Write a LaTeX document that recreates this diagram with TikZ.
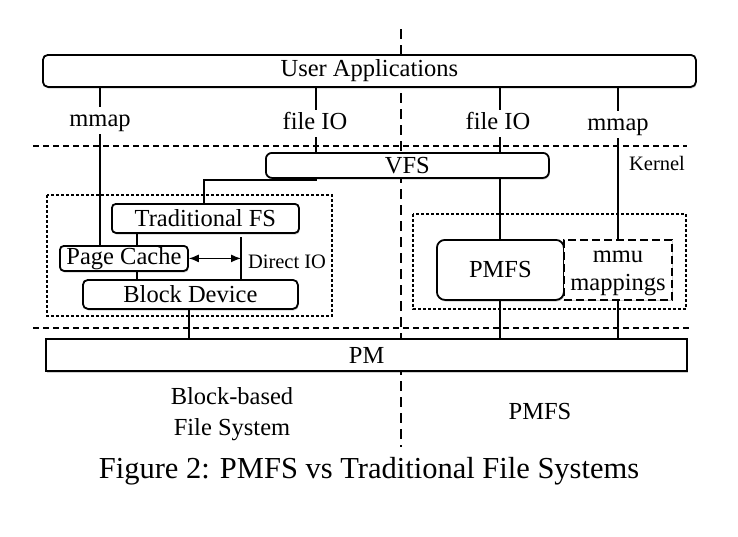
\documentclass[tikz,border=0pt]{standalone}
\usepackage{fontspec}
\setmainfont{Liberation Serif}
\usetikzlibrary{arrows.meta,shadows}
\tikzset{
  box/.style={draw, fill=white, line width=1.8pt, rounded corners=5pt, anchor=north west, inner sep=0pt, align=center, font=\fontsize{24.5}{29}\selectfont,
    drop shadow={shadow xshift=0.8pt, shadow yshift=-1.6pt, opacity=0.18, fill=black}},
  sqbox/.style={box, rounded corners=0pt},
  lbl/.style={anchor=base, inner sep=2pt, text height=17pt, text depth=6pt, font=\fontsize{24.5}{29}\selectfont},
  intext/.style={anchor=base, inner sep=0pt, font=\fontsize{24.5}{29}\selectfont},
  small/.style={inner sep=0pt, font=\fontsize{20.5}{24}\selectfont},
  big/.style={inner sep=0pt, font=\fontsize{24.5}{31}\selectfont},
  conn/.style={line width=1.3pt},
  group/.style={draw, line width=1.4pt, dash pattern=on 3pt off 2pt},
  layer/.style={line width=1.2pt, dash pattern=on 6pt off 4pt},
  divider/.style={line width=2.6pt, dash pattern=on 10pt off 6pt},
  dblarrow/.style={conn, >={Latex[length=10pt,width=8pt]}, <->},
}
\begin{document}
\begin{tikzpicture}[x=1pt,y=-1pt]
\useasboundingbox (0,0) rectangle (738,536);

% divider (behind everything)
\coordinate (dtop) at (401,29);
\coordinate (dbot) at (401,447);
\draw[divider] (dtop) -- (dbot);

% layer lines
\coordinate (hl1) at (33,146);
\coordinate (hr1) at (687,146);
\coordinate (hl2) at (33,328);
\coordinate (hr2) at (692,328);
\draw[layer] (hl1) -- (hr1);
\draw[layer] (hl2) -- (hr2);

% groups
\draw[group] (47,195) rectangle (332,316);
\draw[group] (413,214) rectangle (686,309);

% boxes
\node[box, minimum width=653pt, minimum height=32pt] (ua) at (42,54) {User Applications};
\node[box, rounded corners=6pt, minimum width=283pt, minimum height=25pt] (vfs) at (265,152) {VFS};
\node[box, rounded corners=4pt, minimum width=187pt, minimum height=29pt] (tfs) at (111,203) {Traditional FS};
\node[box, rounded corners=4pt, minimum width=128pt, minimum height=25pt] (pc) at (59,245) {Page Cache};
\node[box, rounded corners=5pt, minimum width=215pt, minimum height=29pt] (bd) at (82,279) {Block Device};
\node[box, rounded corners=8pt, minimum width=127pt, minimum height=60pt] (pmfs) at (436,239) {PMFS};
\node[box, rounded corners=0pt, line width=1.5pt, dash pattern=on 8pt off 4pt, drop shadow={opacity=0}, minimum width=108pt, minimum height=60pt] (mmu) at (563,239) {};
\node[intext] (mmu1) at (618,262) {mmu};
\node[intext] (mmu2) at (618,290) {mappings};
\node[sqbox, line width=2.2pt, minimum width=641pt, minimum height=32pt] (pm) at (45,338) {PM};

% labels on the links
\node[lbl] (mmapL) at (100,126) {mmap};
\node[lbl] (fileioL) at (315,129) {file IO};
\node[lbl] (fileioR) at (498,129) {file IO};
\node[lbl] (mmapR) at (618,130) {mmap};
\node[small] (kernel) at (657,163) {Kernel};
\node[small] (dio) at (287,262) {Direct IO};

% left stack connectors
\draw[conn] (ua.south -| mmapL) -- (mmapL.north);
\draw[conn] (mmapL.south) -- (mmapL.south |- pc.north);
\coordinate (fx) at (316,0);
\draw[conn] (ua.south -| fx) -- (fileioL.north -| fx);
\draw[conn] (fileioL.south -| fx) -- (vfs.north -| fx);
\coordinate (bend) at (204,180);
\draw[conn] (vfs.south -| fx) |- (bend) -- (bend |- tfs.north);
\coordinate (xl) at (137,0);
\draw[conn] (tfs.south -| xl) -- (pc.north -| xl);
\draw[conn] (pc.south -| xl) -- (bd.north -| xl);
\coordinate (diotop) at (241,237);
\draw[conn] (diotop) -- (diotop |- bd.north);
\draw[dblarrow] (pc.east) -- (pc.east -| diotop);
\coordinate (bx) at (189,0);
\draw[conn] (bd.south -| bx) -- (pm.north -| bx);

% right stack connectors
\coordinate (rx) at (500,0);
\draw[conn] (ua.south -| rx) -- (fileioR.north -| rx);
\draw[conn] (fileioR.south -| rx) -- (vfs.north -| rx);
\draw[conn] (vfs.south -| rx) -- (pmfs.north -| rx);
\draw[conn] (pmfs.south -| rx) -- (pm.north -| rx);
\draw[conn] (ua.south -| mmapR) -- (mmapR.north);
\draw[conn] (mmapR.south) -- (mmapR.south |- mmu.north);
\draw[conn] (mmu.south -| mmapR) -- (pm.north -| mmapR);

% bottom texts
\node[big, anchor=base] (bb1) at (232,404) {Block-based};
\node[big, anchor=base] (bb2) at (232,435) {File System};
\node[big, anchor=base] (pmfslbl) at (540,419) {PMFS};
\node[inner sep=0pt, anchor=base, font=\fontsize{30.5}{36}\selectfont] (cap) at (369,478) {Figure 2: PMFS vs Traditional File Systems};
\end{tikzpicture}
\end{document}
